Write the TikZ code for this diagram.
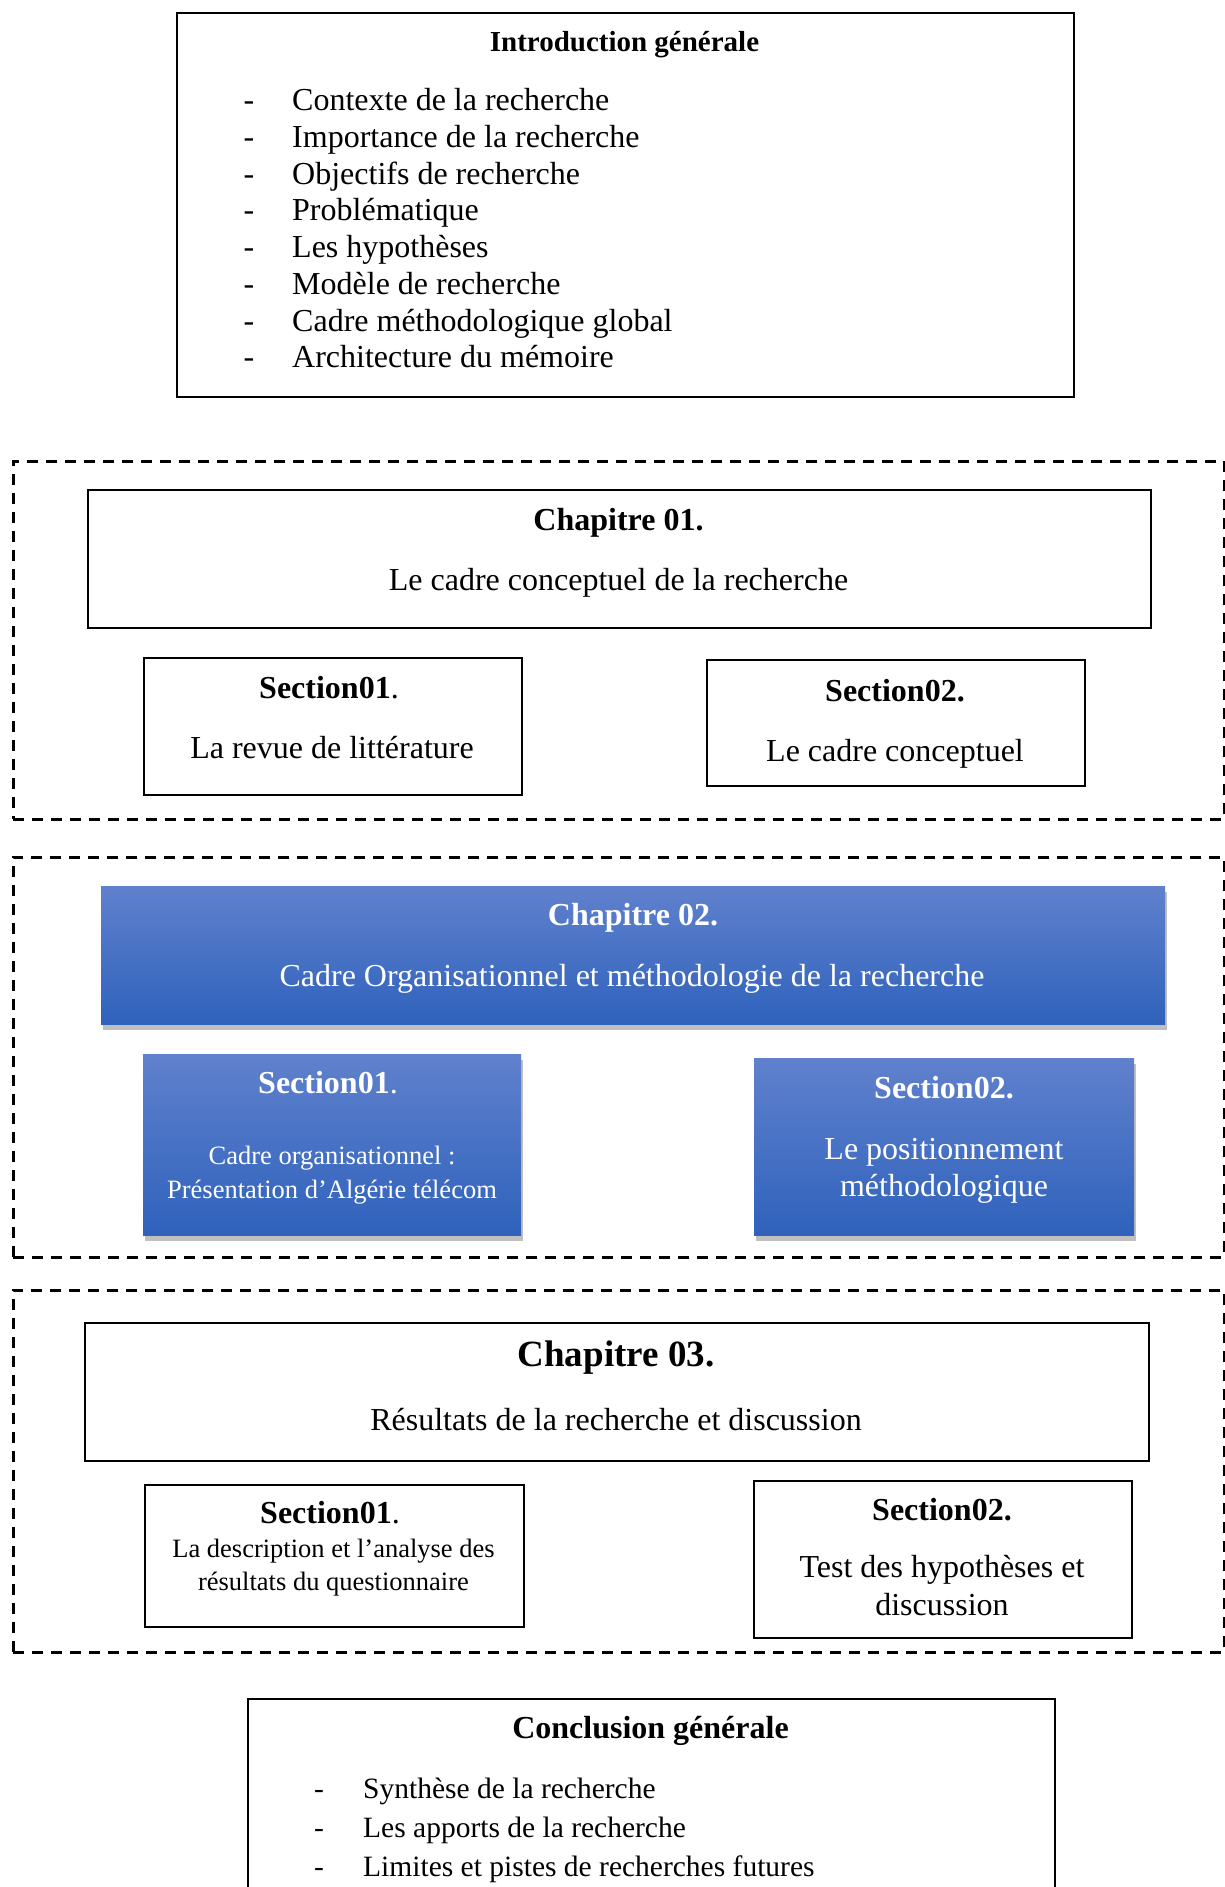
\documentclass[tikz,border=0pt]{standalone}
\usepackage{fontspec}
\setmainfont{Liberation Serif}
\usetikzlibrary{shadows}
\definecolor{bluetop}{RGB}{96,129,205}
\definecolor{bluebot}{RGB}{47,98,188}
\tikzset{
  solidbox/.style={draw=black, line width=2pt, rectangle, anchor=north west, inner sep=0pt},
  dashbox/.style={draw=black, line width=2.6pt, dash pattern=on 11pt off 8pt, rectangle, anchor=north west, inner sep=0pt},
  bluebox/.style={rectangle, anchor=north west, inner sep=0pt, top color=bluetop, bottom color=bluebot,
     drop shadow={shadow xshift=2pt, shadow yshift=-6pt, fill=black, opacity=0.25}},
  txt/.style={inner sep=0pt, yshift=-8pt, text height=0.7em, text depth=0.2em, font=\fontsize{32pt}{38pt}\selectfont},
  btxt/.style={txt, font=\fontsize{32pt}{38pt}\selectfont\bfseries},
  stxt/.style={txt, font=\fontsize{26.5pt}{32pt}\selectfont},
  wtxt/.style={text=white},
  itemtxt/.style={txt, anchor=west},
  citemtxt/.style={txt, anchor=west, font=\fontsize{29.5pt}{36pt}\selectfont},
}
\begin{document}
\begin{tikzpicture}[x=1pt,y=-1pt]
\useasboundingbox (0,0) rectangle (1225,1887);
\clip (0,0) rectangle (1225,1887);
\fill[white] (0,0) rectangle (1225,1887);

% Introduction
\node[solidbox, minimum width=897pt, minimum height=384pt] (intro) at (176,12) {};
\node[txt, font=\fontsize{29pt}{35pt}\selectfont\bfseries] (introT) at (624.5,41) {Introduction générale};
\foreach \t [count=\i from 0] in {Contexte de la recherche, Importance de la recherche, Objectifs de recherche, Problématique, Les hypothèses, Modèle de recherche, Cadre méthodologique global, Architecture du mémoire}{
  \node[txt] (introD\i) at (249,{100+36.78*\i}) {-};
  \node[itemtxt] (introI\i) at (292,{100+36.78*\i}) {\t};
}

% Chapitre 01
\node[dashbox, minimum width=1211pt, minimum height=358pt] (d1) at (12,460) {};
\node[solidbox, minimum width=1063pt, minimum height=138pt] (ch1) at (87,489) {};
\node[btxt] (ch1T) at (618.5,520) {Chapitre 01.};
\node[txt] (ch1S) at (618.5,580) {Le cadre conceptuel de la recherche};
\node[solidbox, minimum width=378pt, minimum height=137pt] (c1s1) at (143,657) {};
\node[txt] (c1s1T) at (329,688) {\textbf{Section01}.};
\node[txt] (c1s1S) at (332,748) {La revue de littérature};
\node[solidbox, minimum width=378pt, minimum height=126pt] (c1s2) at (706,659) {};
\node[btxt] (c1s2T) at (895,691) {Section02.};
\node[txt] (c1s2S) at (895,751) {Le cadre conceptuel};

% Chapitre 02
\node[dashbox, minimum width=1211pt, minimum height=400pt] (d2) at (12,856) {};
\node[bluebox, minimum width=1064pt, minimum height=138pt] (ch2) at (101,886) {};
\node[btxt, wtxt] (ch2T) at (633,915) {Chapitre 02.};
\node[txt, wtxt] (ch2S) at (632,976) {Cadre Organisationnel et méthodologie de la recherche};
\node[bluebox, minimum width=378pt, minimum height=181pt] (c2s1) at (143,1054) {};
\node[txt, wtxt] (c2s1T) at (328,1083) {\textbf{Section01}.};
\node[stxt, wtxt] (c2s1A) at (332,1154) {Cadre organisationnel :};
\node[stxt, wtxt] (c2s1B) at (332,1188) {Présentation d’Algérie télécom};
\node[bluebox, minimum width=380pt, minimum height=177pt] (c2s2) at (754,1058) {};
\node[btxt, wtxt] (c2s2T) at (944,1088) {Section02.};
\node[txt, wtxt] (c2s2A) at (944,1149) {Le positionnement};
\node[txt, wtxt] (c2s2B) at (944,1186) {méthodologique};

% Chapitre 03
\node[dashbox, minimum width=1211pt, minimum height=362pt] (d3) at (12,1289) {};
\node[solidbox, minimum width=1064pt, minimum height=138pt] (ch3) at (84,1322) {};
\node[txt, font=\fontsize{37pt}{44pt}\selectfont\bfseries] (ch3T) at (616,1356) {Chapitre 03.};
\node[txt] (ch3S) at (616,1420) {Résultats de la recherche et discussion};
\node[solidbox, minimum width=379pt, minimum height=142pt] (c3s1) at (144,1484) {};
\node[txt] (c3s1T) at (330,1513) {\textbf{Section01}.};
\node[stxt] (c3s1A) at (333.5,1547) {La description et l’analyse des};
\node[stxt] (c3s1B) at (333.5,1580) {résultats du questionnaire};
\node[solidbox, minimum width=378pt, minimum height=157pt] (c3s2) at (753,1480) {};
\node[btxt] (c3s2T) at (942,1510) {Section02.};
\node[txt] (c3s2A) at (942,1567) {Test des hypothèses et};
\node[txt] (c3s2B) at (942,1605) {discussion};

% Conclusion
\node[solidbox, minimum width=807pt, minimum height=250pt] (concl) at (247,1698) {};
\node[btxt] (conclT) at (650.5,1728) {Conclusion générale};
\foreach \t [count=\i from 0] in {Synthèse de la recherche, Les apports de la recherche, Limites et pistes de recherches futures}{
  \node[txt, font=\fontsize{29.5pt}{36pt}\selectfont] (conclD\i) at (319,{1788+39*\i}) {-};
  \node[citemtxt] (conclI\i) at (363,{1788+39*\i}) {\t};
}
\end{tikzpicture}
\end{document}
